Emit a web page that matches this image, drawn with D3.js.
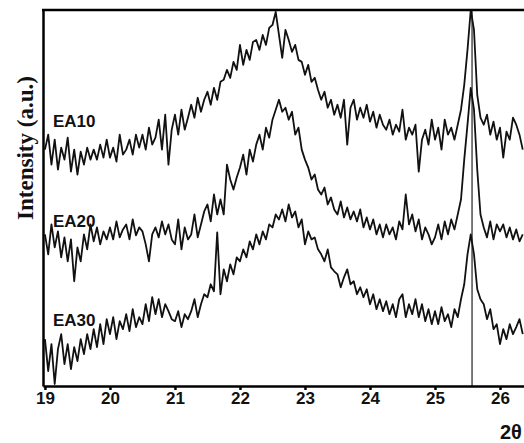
<!DOCTYPE html>
<html>
<head>
<meta charset="utf-8">
<script src="https://cdn.jsdelivr.net/npm/d3@7"></script>
<style>
  body { margin: 0; background: #fff; }
  svg { display: block; }
  .tick text { font-family: "Liberation Sans", Arial, sans-serif; font-weight: bold; font-size: 17px; }
</style>
</head>
<body>
<div class="chart"></div>
<script>
//Scan grid (2 theta, degrees)
var twoTheta = [
  19.00,19.05,19.10,19.15,19.20,19.25,19.30,19.35,19.40,19.45,
  19.50,19.55,19.60,19.65,19.70,19.75,19.80,19.85,19.90,19.95,
  20.00,20.05,20.10,20.15,20.20,20.25,20.30,20.35,20.40,20.45,
  20.50,20.55,20.60,20.65,20.70,20.75,20.80,20.85,20.90,20.95,
  21.00,21.05,21.10,21.15,21.20,21.25,21.30,21.35,21.40,21.45,
  21.50,21.55,21.60,21.65,21.70,21.75,21.80,21.85,21.90,21.95,
  22.00,22.05,22.10,22.15,22.20,22.25,22.30,22.35,22.40,22.45,
  22.50,22.55,22.60,22.65,22.70,22.75,22.80,22.85,22.90,22.95,
  23.00,23.05,23.10,23.15,23.20,23.25,23.30,23.35,23.40,23.45,
  23.50,23.55,23.60,23.65,23.70,23.75,23.80,23.85,23.90,23.95,
  24.00,24.05,24.10,24.15,24.20,24.25,24.30,24.35,24.40,24.45,
  24.50,24.55,24.60,24.65,24.70,24.75,24.80,24.85,24.90,24.95,
  25.00,25.05,25.10,25.15,25.20,25.25,25.30,25.35,25.40,25.45,
  25.50,25.55,25.60,25.65,25.70,25.75,25.80,25.85,25.90,25.95,
  26.00,26.05,26.10,26.15,26.20,26.25,26.30,26.35
];

//Intensities (a.u.)
var ea10 = [
  250,265,235,260,230, 252,240,262,228,250, 225,248,235,252,240, 250,240,255,242,260,
  242,252,238,265,245, 250,260,245,265,252, 265,250,272,255,262, 280,250,285,235,270,
  285,265,290,270,282, 295,282,302,288,300, 308,295,312,300,318, 320,330,322,338,330,
  355,335,350,340,358, 360,350,365,355,372, 375,388,365,342,370, 360,348,355,340,338,
  325,335,318,322,310, 300,308,292,300,285, 295,282,300,255,292, 300,280,292,282,295,
  278,288,272,285,275, 270,280,265,275,268, 290,260,272,265,275, 228,260,270,255,280,
  260,272,250,280,265, 272,260,275,290,315, 350,390,370,305,282, 275,285,265,278,260,
  272,242,268,260,282, 275,265,250
];
var ea20 = [
  165,145,175,152,168, 142,162,138,160,118, 152,138,165,150,175, 158,172,155,168,160,
  172,160,178,162,170, 175,160,180,164,172, 168,155,138,165,172, 162,178,165,175,160,
  155,180,150,172,160, 165,185,162,175,188, 195,178,205,185,200, 185,235,220,210,222,
  232,245,225,250,238, 255,265,250,272,262, 280,290,300,288,292, 280,288,265,272,250,
  240,232,220,225,210, 205,212,195,202,190, 185,198,182,192,180, 188,178,190,172,182,
  170,180,165,175,162, 175,165,172,160,178, 170,205,175,185,168, 180,160,172,165,155,
  162,175,160,178,165, 180,170,185,200,240, 275,312,290,230,185, 172,162,178,160,175,
  168,175,162,172,160, 170,158,165
];
var ea30 = [
  60,28,55,15,50, 65,35,55,30,52, 38,60,45,65,50, 70,52,75,55,80,
  65,82,60,78,70, 85,68,90,72,82, 75,95,78,102,85, 100,82,95,88,80,
  78,88,72,85,80, 88,100,82,95,105, 102,115,108,167,105, 130,118,135,125,142,
  138,150,142,158,150, 165,155,168,160,175, 172,185,180,190,178, 195,182,188,172,180,
  155,168,160,162,150, 145,138,150,132,128, 125,112,122,130,115, 118,105,112,102,110,
  95,105,90,100,88, 98,85,95,82,100, 105,82,95,85,100, 82,95,78,90,75,
  88,75,92,78,85, 72,90,82,100,115, 145,165,145,110,100, 95,80,90,70,75,
  55,70,60,75,65, 72,80,65
];

var seriesNames = ["EA10", "EA20", "EA30"];
var xTicks = [19, 20, 21, 22, 23, 24, 25, 26];
var peakMarker = 25.57;

var svgWidth = 524;
var svgHeight = 443;

var svg = d3.select(".chart")
  .append("svg")
  .attr("width", svgWidth)
  .attr("height", svgHeight);

//65 px per degree, left axis just before 19
var xScale = d3.scaleLinear().domain([18.97, 27]).range([43, 565]);
var yScale = d3.scaleLinear().domain([13, 390]).range([386, 10]);

var line = d3.line()
  .x(function(d) { return xScale(d[0]); })
  .y(function(d) { return yScale(d[1]); });

var allSeries = [ea10, ea20, ea30];

//marker line through the sharp reflection
svg.append("line")
  .attr("x1", xScale(peakMarker)).attr("x2", xScale(peakMarker))
  .attr("y1", yScale(390)).attr("y2", yScale(13))
  .attr("stroke", "#222")
  .attr("stroke-width", 1.2);

svg.selectAll("path.trace")
  .data(allSeries)
  .enter().append("path")
  .attr("class", "trace")
  .attr("d", function(values) {
    return line(values.map(function(v, i) { return [twoTheta[i], v]; }));
  })
  .attr("fill", "none")
  .attr("stroke", "#111")
  .attr("stroke-width", 1.8)
  .attr("stroke-linejoin", "round");

//bottom axis
var bottomAxis = d3.axisBottom(xScale)
  .tickValues(xTicks)
  .tickFormat(d3.format("d"))
  .tickSize(4)
  .tickSizeOuter(0)
  .tickPadding(2);

var gx = svg.append("g")
  .attr("transform", "translate(0," + yScale(13) + ")")
  .call(bottomAxis);
gx.select(".domain").attr("stroke", "#000").attr("stroke-width", 2.5);
gx.selectAll(".tick line").attr("stroke", "#000").attr("stroke-width", 2.5);
gx.selectAll(".tick text").attr("fill", "#111");

//left axis, no ticks
var leftAxis = d3.axisLeft(yScale).tickValues([]).tickSizeOuter(0);
var gy = svg.append("g")
  .attr("transform", "translate(" + xScale(18.97) + ",0)")
  .call(leftAxis);
gy.select(".domain").attr("stroke", "#000").attr("stroke-width", 2.5);

//top frame line
svg.append("line")
  .attr("x1", xScale(18.97) - 1).attr("x2", svgWidth)
  .attr("y1", yScale(390)).attr("y2", yScale(390))
  .attr("stroke", "#000")
  .attr("stroke-width", 2.5);

//series labels
var labelY = [127, 227, 326];
svg.selectAll("text.series")
  .data(seriesNames)
  .enter().append("text")
  .attr("class", "series")
  .attr("x", 53)
  .attr("y", function(d, i) { return labelY[i]; })
  .style("font-family", "'Liberation Sans', Arial, sans-serif")
  .style("font-weight", "bold")
  .style("font-size", "17px")
  .attr("fill", "#111")
  .text(function(d) { return d; });

//axis titles
svg.append("text")
  .attr("transform", "translate(33,148) rotate(-90)")
  .style("text-anchor", "middle")
  .style("font-family", "'Liberation Serif', 'Times New Roman', serif")
  .style("font-weight", "bold")
  .style("font-size", "23px")
  .attr("fill", "#111")
  .text("Intensity (a.u.)");

svg.append("text")
  .attr("x", 500)
  .attr("y", 439)
  .style("font-family", "'Liberation Sans', Arial, sans-serif")
  .style("font-weight", "bold")
  .style("font-size", "20px")
  .attr("fill", "#111")
  .text("2θ");
</script>
</body>
</html>
